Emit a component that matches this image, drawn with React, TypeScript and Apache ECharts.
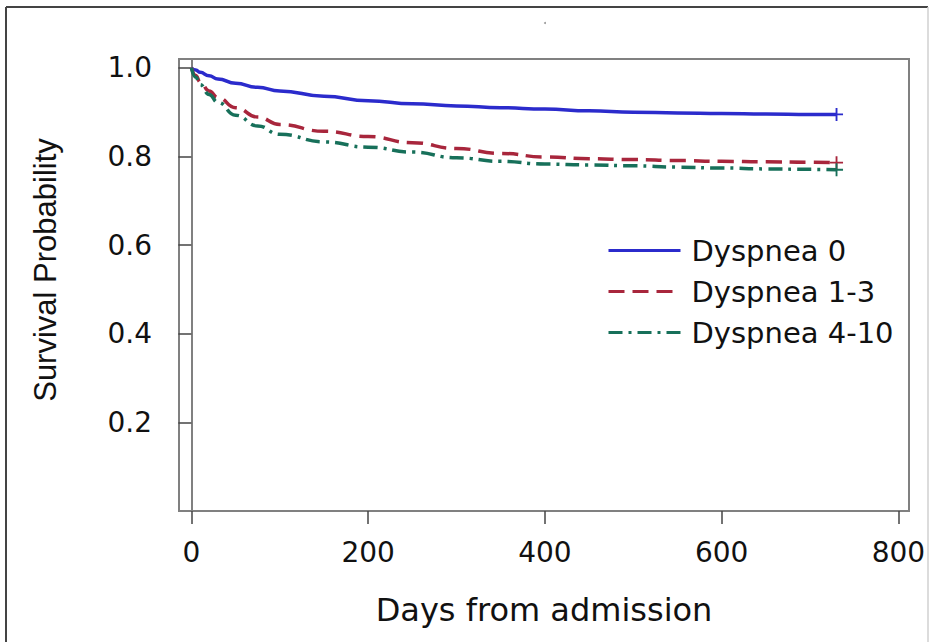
import React, { useEffect, useRef } from "react";
import * as echarts from "echarts";

const days = [0, 5, 10, 20, 30, 50, 75, 100, 150, 200, 250, 300, 350, 400, 450, 500, 550, 600, 650, 700, 730];
const dyspnea0 = [1.0, 0.995, 0.99, 0.982, 0.975, 0.965, 0.956, 0.948, 0.936, 0.926, 0.919, 0.914, 0.91, 0.907, 0.903, 0.9, 0.898, 0.897, 0.896, 0.895, 0.895];
const dyspnea13 = [1.0, 0.983, 0.968, 0.948, 0.933, 0.91, 0.889, 0.872, 0.857, 0.845, 0.831, 0.818, 0.807, 0.799, 0.795, 0.793, 0.791, 0.789, 0.788, 0.787, 0.786];
const dyspnea410 = [1.0, 0.979, 0.962, 0.94, 0.922, 0.893, 0.869, 0.85, 0.833, 0.821, 0.81, 0.797, 0.789, 0.783, 0.781, 0.779, 0.776, 0.774, 0.772, 0.771, 0.77];
const seriesNames = ["Dyspnea 0", "Dyspnea 1-3", "Dyspnea 4-10"];
const xTicks = [0, 200, 400, 600, 800];
const yTicks = [0.2, 0.4, 0.6, 0.8, 1.0];

const PLUS = "path://M-1,-7H1V-1H7V1H1V7H-1V1H-7V-1H-1Z";

function build(values: number[]) {
  return days.map((d, i) =>
    i === days.length - 1
      ? { value: [d, values[i]], symbol: PLUS, symbolSize: 13 }
      : { value: [d, values[i]] }
  );
}

export default function App() {
  const ref = useRef<HTMLDivElement>(null);
  useEffect(() => {
    if (!ref.current) return;
    const chart = echarts.init(ref.current, null, { renderer: "svg" });
    const colors = ["#2b2bcc", "#a8263c", "#17705a"];
    const dashes: any[] = ["solid", [16, 8], [14, 6, 3, 6]];
    chart.setOption({
      animation: false,
      backgroundColor: "#ffffff",
      textStyle: { fontFamily: "DejaVu Sans" },
      grid: {
        left: 179,
        right: 26,
        top: 59,
        bottom: 131,
        show: true,
        borderColor: "#808080",
        borderWidth: 2,
      },
      legend: {
        orient: "vertical",
        left: 602,
        top: 231,
        itemWidth: 72,
        itemHeight: 14,
        itemGap: 12,
        data: seriesNames,
        itemStyle: { opacity: 0 },
        lineStyle: { width: 3 },
        textStyle: { fontSize: 29, color: "#111", fontFamily: "DejaVu Sans", padding: [0, 0, 0, 6] },
      },
      xAxis: {
        type: "value",
        min: -14,
        max: 812,
        splitLine: { show: false },
        axisLine: { show: true, lineStyle: { color: "#808080", width: 2 } },
        axisTick: { show: true, length: 13, customValues: xTicks, lineStyle: { color: "#444", width: 1.5 } },
        axisLabel: {
          customValues: xTicks,
          margin: 27,
          fontSize: 28,
          color: "#111",
          fontFamily: "DejaVu Sans",
        },
        name: "Days from admission",
        nameLocation: "middle",
        nameGap: 83,
        nameTextStyle: { fontSize: 32, color: "#111", fontFamily: "DejaVu Sans", verticalAlign: "top" },
      },
      yAxis: {
        type: "value",
        min: 0,
        max: 1.02,
        splitLine: { show: false },
        axisLine: { show: true, lineStyle: { color: "#808080", width: 2 } },
        axisTick: { show: true, length: 13, customValues: yTicks, lineStyle: { color: "#444", width: 1.5 } },
        axisLabel: {
          customValues: yTicks,
          margin: 27,
          fontSize: 28,
          color: "#111",
          fontFamily: "DejaVu Sans",
          formatter: (v: number) => v.toFixed(1),
        },
      },
      graphic: [
        { type: "line", shape: { x1: 6, y1: 7, x2: 928, y2: 7 }, style: { stroke: "#444", lineWidth: 2 } },
        { type: "line", shape: { x1: 6, y1: 7, x2: 6, y2: 642 }, style: { stroke: "#444", lineWidth: 2 } },
        { type: "line", shape: { x1: 928, y1: 7, x2: 928, y2: 642 }, style: { stroke: "#d0d0d0", lineWidth: 1.5 } },
        { type: "circle", shape: { cx: 545, cy: 23, r: 1 }, style: { fill: "#999" } },
        {
          type: "text",
          x: 45,
          y: 270,
          rotation: Math.PI / 2,
          style: {
            text: "Survival Probability",
            fontSize: 31,
            fontFamily: "Liberation Sans",
            fill: "#111",
            align: "center",
            verticalAlign: "middle",
          },
        },
      ],
      series: [dyspnea0, dyspnea13, dyspnea410].map((vals, i) => ({
        name: seriesNames[i],
        type: "line",
        data: build(vals),
        symbol: "none",
        showSymbol: true,
        smooth: 0.5,
        smoothMonotone: "x",
        color: colors[i],
        lineStyle: { color: colors[i], width: 3.5, type: dashes[i] },
        itemStyle: { color: colors[i] },
      })),
    });
    return () => chart.dispose();
  }, []);
  return <div ref={ref} style={{ position: "fixed", left: 0, top: 0, width: 935, height: 642 }} />;
}
